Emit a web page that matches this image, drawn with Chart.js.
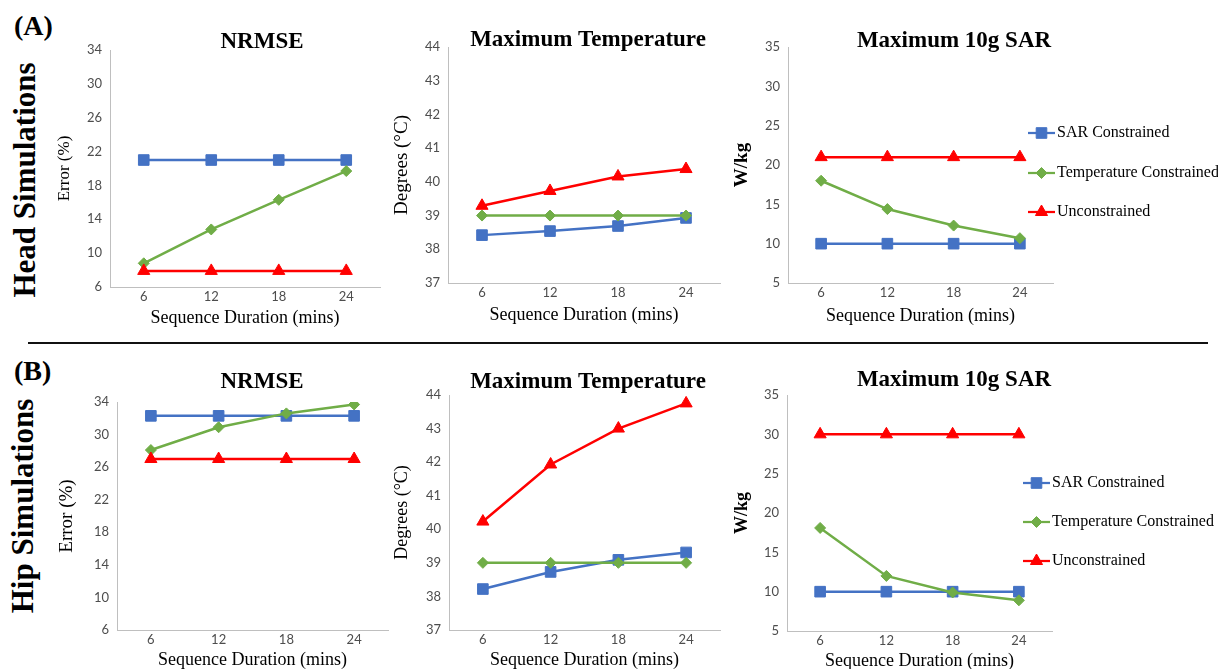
<!DOCTYPE html>
<html>
<head>
<meta charset="utf-8">
<script src="https://cdn.jsdelivr.net/npm/chart.js@4.4.0/dist/chart.umd.min.js"></script>
<style>
  body { margin: 0; background: #fff; width: 1218px; height: 669px; position: relative; overflow: hidden; font-family: "Liberation Serif", serif; }
  canvas { position: absolute; }
  .lbl { position: absolute; font-weight: bold; color: #000; white-space: nowrap; line-height: 1; }
  .tag { font-size: 28px; }
  .side { font-size: 31px; transform: translate(-50%, -50%) rotate(-90deg); }
  .rule { position: absolute; left: 28px; width: 1180px; top: 342px; height: 2px; background: #111; }
</style>
</head>
<body>
<div class="lbl tag" style="left:14px; top:12px;">(A)</div>
<div class="lbl side" style="left:24px; top:180px;">Head Simulations</div>
<div class="rule"></div>
<div class="lbl tag" style="left:14px; top:357px;">(B)</div>
<div class="lbl side" style="left:22px; top:506px;">Hip Simulations</div>

<canvas id="headNrmse"></canvas>
<canvas id="headTemp"></canvas>
<canvas id="headSar"></canvas>
<canvas id="hipNrmse"></canvas>
<canvas id="hipTemp"></canvas>
<canvas id="hipSar"></canvas>

<script>
// sequence durations (mins)
const durations = ['6', '12', '18', '24'];
const seriesNames = ['SAR Constrained', 'Temperature Constrained', 'Unconstrained'];

// head simulations
const headNrmseSar = [21, 21, 21, 21];
const headNrmseTemp = [8.8, 12.8, 16.3, 19.7];
const headNrmseUncon = [7.9, 7.9, 7.9, 7.9];
const headTempSar = [38.42, 38.54, 38.69, 38.93];
const headTempTemp = [39, 39, 39, 39];
const headTempUncon = [39.29, 39.73, 40.16, 40.38];
const headSarSar = [10, 10, 10, 10];
const headSarTemp = [18, 14.4, 12.3, 10.7];
const headSarUncon = [21, 21, 21, 21];

// hip simulations
const hipNrmseSar = [32.3, 32.3, 32.3, 32.3];
const hipNrmseTemp = [28.1, 30.9, 32.6, 33.7];
const hipNrmseUncon = [27, 27, 27, 27];
const hipTempSar = [38.22, 38.73, 39.09, 39.31];
const hipTempTemp = [39, 39, 39, 39];
const hipTempUncon = [40.23, 41.93, 43.0, 43.75];
const hipSarSar = [10, 10, 10, 10];
const hipSarTemp = [18.1, 12, 9.9, 8.9];
const hipSarUncon = [30, 30, 30, 30];

const BLUE = '#4472C4';
const GREEN = '#70AD47';
const RED = '#FF0000';
const SERIF = '"Liberation Serif", "Times New Roman", serif';
const SANS = 'Lato, "Open Sans", sans-serif';

const styles = [
  { color: BLUE, pointStyle: 'rect', radius: 7.5, order: 3 },
  { color: GREEN, pointStyle: 'rectRot', radius: 5.5, order: 2 },
  { color: RED, pointStyle: 'triangle', radius: 7, order: 1 }
];

// titles and legend drawn in page coordinates
const figurePlugin = {
  id: 'figure',
  afterDraw(chart, args, opts) {
    const ctx = chart.ctx;
    ctx.save();
    ctx.fillStyle = '#000';
    ctx.font = 'bold 23px ' + SERIF;
    ctx.textAlign = 'center';
    ctx.textBaseline = 'alphabetic';
    ctx.fillText(opts.title, opts.titleX - opts.x0, opts.titleY - opts.y0);

    if (opts.legend) {
      const lg = opts.legend;
      chart.data.datasets.forEach((ds, i) => {
        const y = lg.rows[i] - opts.y0;
        const x1 = lg.x - opts.x0;
        const x2 = x1 + 27;
        ctx.strokeStyle = ds.borderColor;
        ctx.fillStyle = ds.borderColor;
        ctx.lineWidth = 2.25;
        ctx.beginPath();
        ctx.moveTo(x1, y);
        ctx.lineTo(x2, y);
        ctx.stroke();
        ctx.lineWidth = 1;
        Chart.helpers.drawPoint(ctx, {
          pointStyle: ds.pointStyle, radius: ds.pointRadius, rotation: 0, borderWidth: 1
        }, (x1 + x2) / 2, y);
        ctx.fillStyle = '#000';
        ctx.font = '16px ' + SERIF;
        ctx.textAlign = 'left';
        ctx.textBaseline = 'middle';
        ctx.fillText(ds.label, x2 + 2, y);
      });
    }
    ctx.restore();
  }
};

function makePanel(id, p) {
  const yW = 95, xH = 45, topPad = 50;
  const x0 = p.l - yW;
  const y0 = p.t - topPad;
  const right = p.legend ? 1218 : p.r + 12;
  const w = right - x0;
  const h = p.b - y0 + xH;
  const cv = document.getElementById(id);
  cv.width = w;
  cv.height = h;
  cv.style.left = x0 + 'px';
  cv.style.top = y0 + 'px';

  const datasets = p.series.map((data, i) => ({
    label: seriesNames[i],
    data: data,
    borderColor: styles[i].color,
    backgroundColor: styles[i].color,
    borderWidth: 2.5,
    pointStyle: styles[i].pointStyle,
    pointRadius: styles[i].radius,
    pointHoverRadius: styles[i].radius,
    pointBorderWidth: 1,
    tension: 0,
    order: styles[i].order
  }));

  new Chart(cv.getContext('2d'), {
    type: 'line',
    data: { labels: durations, datasets },
    plugins: [figurePlugin],
    options: {
      responsive: false,
      animation: false,
      devicePixelRatio: 1,
      layout: { padding: { left: 0, top: topPad, right: right - p.r, bottom: 0 } },
      plugins: {
        legend: { display: false },
        title: { display: false },
        tooltip: { enabled: false },
        figure: {
          x0, y0,
          title: p.title, titleX: p.titleX, titleY: p.titleY,
          legend: p.legend || null
        }
      },
      scales: {
        x: {
          offset: true,
          grid: { display: false, drawTicks: false },
          border: { display: true, color: '#bfbfbf', width: 1 },
          ticks: { color: '#4d4d4d', font: { family: SANS, size: 13 }, padding: 2, maxRotation: 0 },
          title: {
            display: true, text: 'Sequence Duration (mins)', color: '#000',
            font: { family: SERIF, size: 18 },
            padding: { top: 0, bottom: xH - p.xTitleGap - 18 * 0.6 }
          },
          afterFit(scale) { scale.height = xH; }
        },
        y: {
          min: p.min, max: p.max,
          grid: { display: false, drawTicks: false },
          border: { display: true, color: '#bfbfbf', width: 1 },
          ticks: { stepSize: p.step, color: '#4d4d4d', font: { family: SANS, size: 13 }, padding: 8 },
          title: {
            display: true, text: p.yTitle, color: '#000',
            font: { family: SERIF, size: p.ySize, weight: p.yBold ? 'bold' : 'normal' },
            padding: { top: (p.yTitleX - x0) - p.ySize * 0.6, bottom: 0 }
          },
          afterFit(scale) { scale.width = yW; }
        }
      }
    }
  });
}

makePanel('headNrmse', {
  l: 110, r: 380, t: 50, b: 287, min: 6, max: 34, step: 4,
  yTitle: 'Error (%)', ySize: 17, yTitleX: 65, xTitleGap: 31,
  title: 'NRMSE', titleX: 262, titleY: 48,
  series: [headNrmseSar, headNrmseTemp, headNrmseUncon]
});
makePanel('headTemp', {
  l: 448, r: 720, t: 47, b: 283, min: 37, max: 44, step: 1,
  yTitle: 'Degrees (°C)', ySize: 19, yTitleX: 402, xTitleGap: 32,
  title: 'Maximum Temperature', titleX: 588, titleY: 46,
  series: [headTempSar, headTempTemp, headTempUncon]
});
makePanel('headSar', {
  l: 788, r: 1053, t: 47, b: 283, min: 5, max: 35, step: 5,
  yTitle: 'W/kg', ySize: 19, yBold: true, yTitleX: 742, xTitleGap: 33,
  title: 'Maximum 10g SAR', titleX: 954, titleY: 47,
  legend: { x: 1028, rows: [133, 173, 212] },
  series: [headSarSar, headSarTemp, headSarUncon]
});
makePanel('hipNrmse', {
  l: 117, r: 388, t: 402, b: 630, min: 6, max: 34, step: 4,
  yTitle: 'Error (%)', ySize: 19, yTitleX: 67, xTitleGap: 30,
  title: 'NRMSE', titleX: 262, titleY: 388,
  series: [hipNrmseSar, hipNrmseTemp, hipNrmseUncon]
});
makePanel('hipTemp', {
  l: 449, r: 720, t: 395, b: 630, min: 37, max: 44, step: 1,
  yTitle: 'Degrees (°C)', ySize: 18, yTitleX: 402, xTitleGap: 30,
  title: 'Maximum Temperature', titleX: 588, titleY: 388,
  series: [hipTempSar, hipTempTemp, hipTempUncon]
});
makePanel('hipSar', {
  l: 787, r: 1052, t: 395, b: 631, min: 5, max: 35, step: 5,
  yTitle: 'W/kg', ySize: 18, yBold: true, yTitleX: 742, xTitleGap: 30,
  title: 'Maximum 10g SAR', titleX: 954, titleY: 386,
  legend: { x: 1023, rows: [483, 522, 561] },
  series: [hipSarSar, hipSarTemp, hipSarUncon]
});
</script>
</body>
</html>
